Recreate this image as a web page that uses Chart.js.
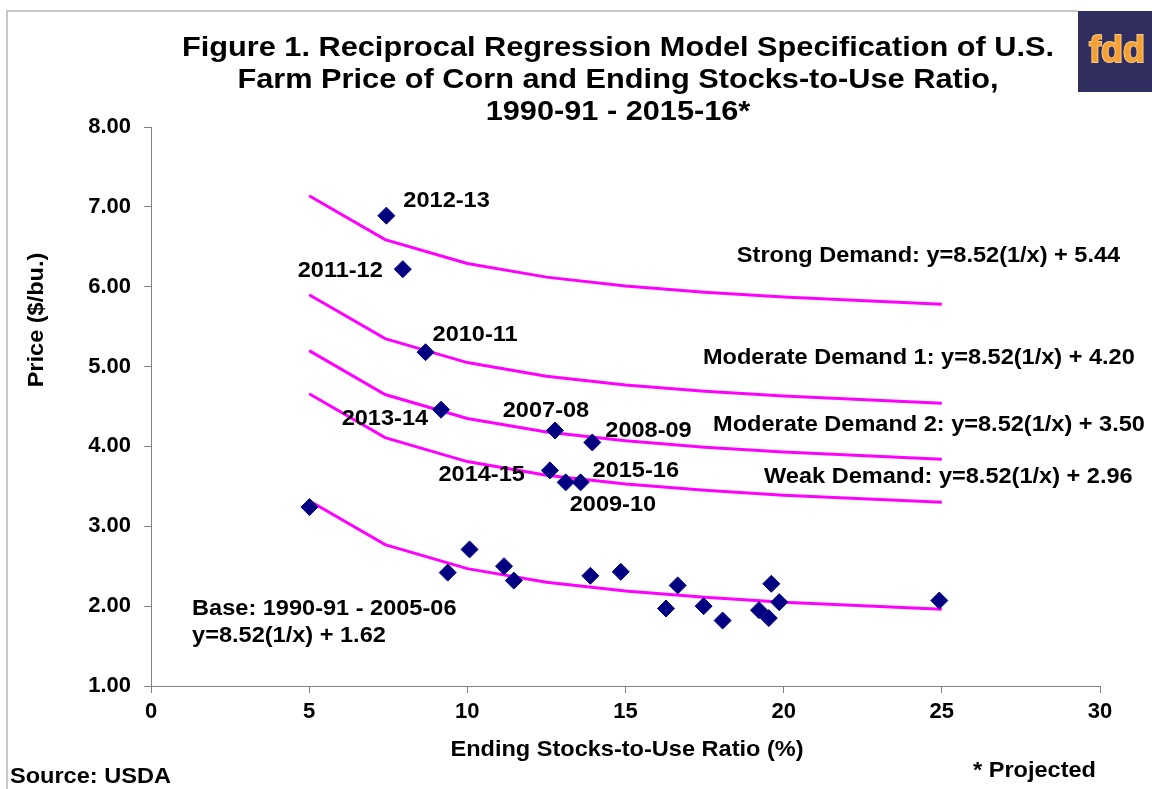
<!DOCTYPE html>
<html>
<head>
<meta charset="utf-8">
<script src="https://cdn.jsdelivr.net/npm/chart.js@4.4.0/dist/chart.umd.min.js"></script>
<style>
html,body{margin:0;padding:0;background:#fff;}
#wrap{width:1152px;height:789px;position:relative;}
</style>
</head>
<body>
<div id="wrap"><canvas id="c" width="1152" height="789"></canvas></div>
<script>
// ---- data ----
const curveX = [5, 7.4, 10, 12.5, 15, 17.5, 20, 25];
const strongY = [7.14, 6.59, 6.29, 6.12, 6.01, 5.93, 5.87, 5.78];
const mod1Y   = [5.90, 5.35, 5.05, 4.88, 4.77, 4.69, 4.63, 4.54];
const mod2Y   = [5.20, 4.65, 4.35, 4.18, 4.07, 3.99, 3.93, 3.84];
const weakY   = [4.66, 4.11, 3.81, 3.64, 3.53, 3.45, 3.39, 3.30];
const baseLineY = [3.32, 2.77, 2.47, 2.30, 2.19, 2.11, 2.05, 1.96];

const baseX = [5.01, 10.07, 9.38, 11.16, 11.47, 13.89, 14.85, 16.65, 16.28, 17.47, 18.07, 19.61, 19.86, 19.22, 19.53, 24.92];
const baseY = [3.24, 2.71, 2.42, 2.50, 2.32, 2.38, 2.43, 2.26, 1.97, 2.00, 1.82, 2.28, 2.05, 1.95, 1.85, 2.07];

const recentLabels = ['2012-13', '2011-12', '2010-11', '2013-14', '2007-08', '2008-09', '2014-15', '2015-16', '2009-10'];
const recentX = [7.44, 7.96, 8.68, 9.17, 12.77, 13.95, 12.61, 13.58, 13.11];
const recentY = [6.89, 6.22, 5.18, 4.46, 4.20, 4.05, 3.70, 3.55, 3.55];

const xTicks = [0, 5, 10, 15, 20, 25, 30];
const yTicks = [1, 2, 3, 4, 5, 6, 7, 8];

const titleLines = ['Figure 1. Reciprocal Regression Model Specification of U.S.',
                    'Farm Price of Corn and Ending Stocks-to-Use Ratio,',
                    '1990-91 - 2015-16*'];
const curveNotes = ['Strong Demand: y=8.52(1/x) + 5.44',
                    'Moderate Demand 1: y=8.52(1/x) + 4.20',
                    'Moderate Demand 2: y=8.52(1/x) + 3.50',
                    'Weak Demand: y=8.52(1/x) + 2.96'];
const baseNote = ['Base: 1990-91 - 2005-06', 'y=8.52(1/x) + 1.62'];

// ---- styling / layout ----
const FONT = '"Liberation Sans", Arial, Helvetica, sans-serif';
const SX = 1.07;
// label placement relative to its point: [align, dx, dy]
const labelPlace = [
  ['left', 17, -15], ['right', -20, 2], ['left', 7, -17], ['right', -13, 9],
  ['center', -9, -20], ['left', 13, -11], ['right', -25, 5], ['left', 12, -11], ['left', 4, 23]
];
// curve note anchors in data units (left edge, vertical centre)
const curveNoteAt = [[18.52, 6.385], [17.45, 5.107], [17.77, 4.268], [19.38, 3.617]];
const baseNoteAt = [[1.30, 1.964], [1.30, 1.626]];

function pts(xs, ys) { return xs.map((x, i) => ({x: x, y: ys[i]})); }

function txt(ctx, s, x, y, align, size, sx, color) {
  ctx.save();
  ctx.font = 'bold ' + size + 'px ' + FONT;
  ctx.textBaseline = 'middle';
  ctx.textAlign = 'left';
  ctx.fillStyle = color || '#000';
  const w = ctx.measureText(s).width * sx;
  const x0 = align === 'left' ? x : (align === 'right' ? x - w : x - w / 2);
  ctx.translate(x0, y);
  ctx.scale(sx, 1);
  ctx.fillText(s, 0, 0);
  ctx.restore();
  return w;
}

const decor = {
  id: 'decor',
  beforeDraw(chart) {
    const ctx = chart.ctx;
    ctx.save();
    ctx.fillStyle = '#fff';
    ctx.fillRect(0, 0, chart.width, chart.height);
    ctx.strokeStyle = '#c8c8c8';
    ctx.lineWidth = 2;
    ctx.beginPath();
    ctx.moveTo(7, 789); ctx.lineTo(7, 11); ctx.lineTo(1078, 11);
    ctx.stroke();
    ctx.restore();
  },
  afterDraw(chart) {
    const ctx = chart.ctx;
    const xs = chart.scales.x, ys = chart.scales.y;
    // title
    ctx.save();
    ctx.font = 'bold 28px ' + FONT;
    const w1 = ctx.measureText(titleLines[0]).width;
    ctx.restore();
    const tsx = 872 / w1;
    const tY = [48, 80, 112];
    titleLines.forEach((s, i) => txt(ctx, s, 618, tY[i], 'center', 28, tsx));

    // logo
    ctx.save();
    ctx.fillStyle = '#2f2e5e';
    ctx.fillRect(1078, 11, 74, 81);
    ctx.font = 'bold 36px ' + FONT;
    ctx.textAlign = 'center';
    ctx.textBaseline = 'alphabetic';
    ctx.lineWidth = 2;
    ctx.strokeStyle = '#f9c98a';
    ctx.strokeText('fdd', 1117, 62);
    ctx.fillStyle = '#f5a030';
    ctx.fillText('fdd', 1117, 62);
    ctx.restore();

    // point labels
    const meta = chart.getDatasetMeta(0);
    recentLabels.forEach((lab, i) => {
      const p = meta.data[i];
      const [al, dx, dy] = labelPlace[i];
      txt(ctx, lab, p.x + dx, p.y + dy, al, 22, SX);
    });
    // curve notes
    curveNotes.forEach((s, i) => {
      const [vx, vy] = curveNoteAt[i];
      txt(ctx, s, xs.getPixelForValue(vx), ys.getPixelForValue(vy), 'left', 22, SX);
    });
    baseNote.forEach((s, i) => {
      const [vx, vy] = baseNoteAt[i];
      txt(ctx, s, xs.getPixelForValue(vx), ys.getPixelForValue(vy), 'left', 22, SX);
    });
    // axis titles
    txt(ctx, 'Ending Stocks-to-Use Ratio (%)', 627, 750, 'center', 22, SX);
    ctx.save();
    ctx.translate(37, 320);
    ctx.rotate(-Math.PI / 2);
    txt(ctx, 'Price ($/bu.)', 0, 0, 'center', 22, SX);
    ctx.restore();
    // footers
    txt(ctx, 'Source: USDA', 10, 777, 'left', 22, SX);
    txt(ctx, '* Projected', 1096, 771, 'right', 22, SX);
  }
};

const lineDs = (data) => ({
  type: 'line', data: data, borderColor: '#ff00ff', backgroundColor: '#ff00ff',
  borderWidth: 3, pointRadius: 0, tension: 0, fill: false, order: 5
});

new Chart(document.getElementById('c'), {
  type: 'scatter',
  data: {
    datasets: [
      { data: pts(recentX, recentY), pointStyle: 'rectRot', pointRadius: 8.5, pointHoverRadius: 8.5,
        backgroundColor: '#000080', borderColor: '#000080', borderWidth: 1, order: 0 },
      { data: pts(baseX, baseY), pointStyle: 'rectRot', pointRadius: 8.5, pointHoverRadius: 8.5,
        backgroundColor: '#000080', borderColor: '#000080', borderWidth: 1, order: 0 },
      lineDs(pts(curveX, strongY)),
      lineDs(pts(curveX, mod1Y)),
      lineDs(pts(curveX, mod2Y)),
      lineDs(pts(curveX, weakY)),
      lineDs(pts(curveX, baseLineY))
    ]
  },
  options: {
    responsive: false,
    animation: false,
    events: [],
    layout: { padding: { left: 0, right: 52, top: 127, bottom: 53 } },
    plugins: { legend: { display: false }, tooltip: { enabled: false }, title: { display: false } },
    scales: {
      x: {
        type: 'linear', min: 0, max: 30,
        afterBuildTicks: (s) => { s.ticks = xTicks.map(v => ({value: v})); },
        afterFit: (s) => { s.height = 50; },
        grid: { display: true, drawOnChartArea: false, drawTicks: true, tickLength: 7, color: '#808080', lineWidth: 1 },
        border: { display: true, color: '#808080', width: 1 },
        ticks: { color: '#000', padding: 6, font: { family: FONT, size: 22, weight: 'bold' }, maxRotation: 0 }
      },
      y: {
        type: 'linear', min: 1, max: 8,
        afterBuildTicks: (s) => { s.ticks = yTicks.map(v => ({value: v})); },
        afterFit: (s) => { s.width = 151; },
        grid: { display: true, drawOnChartArea: false, drawTicks: true, tickLength: 7, color: '#808080', lineWidth: 1 },
        border: { display: true, color: '#808080', width: 1 },
        ticks: { color: '#000', padding: 13, font: { family: FONT, size: 22, weight: 'bold' },
                 callback: (v) => Number(v).toFixed(2) }
      }
    }
  },
  plugins: [decor]
});
</script>
</body>
</html>
